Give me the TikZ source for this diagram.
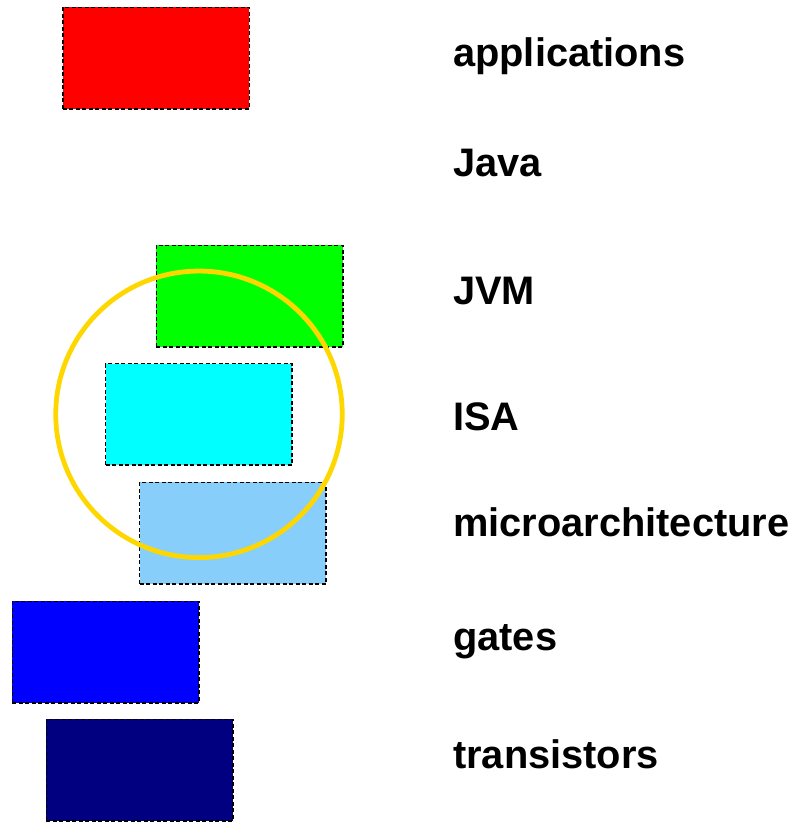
\documentclass[tikz,border=0pt]{standalone}
\usepackage{fontspec}
\setmainfont{Liberation Sans}
\definecolor{lgreen}{RGB}{0,255,0}
\definecolor{cyanc}{RGB}{0,255,255}
\definecolor{lskyblue}{RGB}{135,206,250}
\definecolor{bluec}{RGB}{0,0,255}
\definecolor{navyc}{RGB}{0,0,128}
\definecolor{goldc}{RGB}{255,215,0}
\begin{document}
\begin{tikzpicture}[x=1pt,y=-1pt,
  layerbox/.style={draw=black, line width=1.5pt, dash pattern=on 4pt off 2.5pt,
    minimum width=186.5pt, minimum height=101.5pt, inner sep=0pt, rectangle},
  lbl/.style={anchor=base west, inner sep=0pt, font=\fontsize{39.8}{48}\selectfont\bfseries}]
\useasboundingbox (0,0) rectangle (803,822);
\node[layerbox, fill=red] (app) at (156,58) {};
\node[layerbox, fill=lgreen] (jvm) at (249.5,296) {};
\node[layerbox, fill=cyanc] (isa) at (198.8,414.3) {};
\node[layerbox, fill=lskyblue] (micro) at (232.8,533) {};
\node[layerbox, fill=bluec] (gates) at (105.5,652) {};
\node[layerbox, fill=navyc] (trans) at (139.5,770.2) {};
\node[draw=goldc, line width=4.8pt, circle, minimum size=286.5pt, inner sep=0pt] (ring) at (199,414.3) {};
\node[lbl] (tapp) at (453,66) {applications};
\node[lbl] (tjava) at (453,176) {Java};
\node[lbl] (tjvm) at (453,304.3) {JVM};
\node[lbl] (tisa) at (453,430.7) {ISA};
\node[lbl] (tmicro) at (453,536.7) {microarchitecture};
\node[lbl] (tgates) at (453,650.7) {gates};
\node[lbl] (ttrans) at (453,768.7) {transistors};
\end{tikzpicture}
\end{document}
